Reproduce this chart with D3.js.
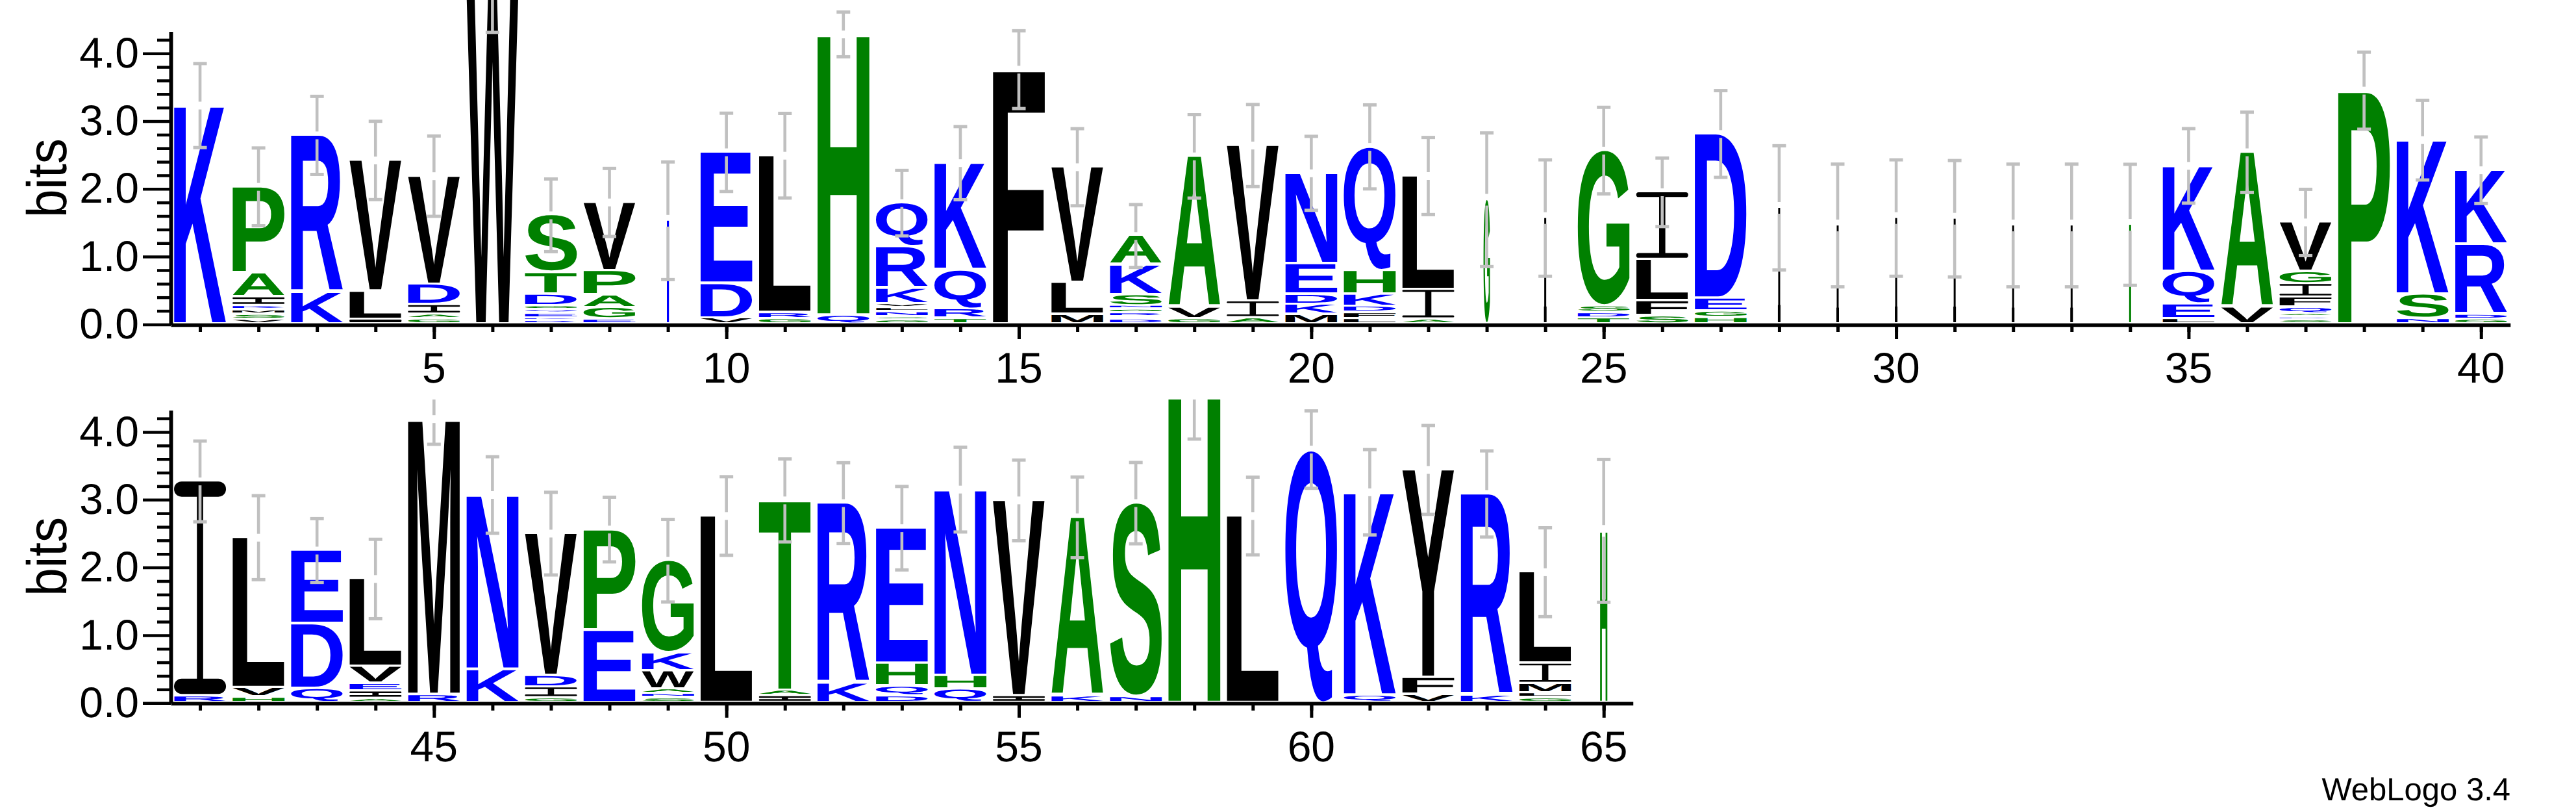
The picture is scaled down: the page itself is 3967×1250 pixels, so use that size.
<!DOCTYPE html>
<html><head><meta charset="utf-8">
<script src="https://cdn.jsdelivr.net/npm/d3@7"></script>
<style>html,body{margin:0;padding:0;background:#fff;} svg{display:block;} text{text-rendering:geometricPrecision;}</style>
</head><body>
<script>
// ---------------- DATA ----------------
const positions = d3.range(1, 66);
// letters of each stack, listed bottom -> top
const stackLetters = [
 "K","VSMKIAP","KR","ILV","GAIDV","W","RKEQGDTS","EGAPV","K","VDE",
 "GRL","QH","GSNLVKRQ","TRQK","F","MLV","DIRGNSKA","GVA","AIV","MKDEN",
 "LFDKHQ","AIL","G","L","TDSG","SFLI","HGED","L","L","L",
 "L","L","L","G","LEQK","VA","SDAQFIGV","P","NSK","GDRK",
 "RI","HVL","QDE","AIEVL","RM","KN","GIDV","EP","SNAWKG","L",
 "IAT","KR","DQHE","QHN","IV","KA","NS","H","L","Q",
 "QK","VFY","KR","GLMIL","H"
];
// heights (bits) of each letter, bottom -> top
const stackHeights = [
 [3.23],[0.068,0.076,0.064,0.061,0.131,0.353,1.277],[0.47,2.32],[0.07,0.415,1.935],[0.076,0.068,0.14,0.304,1.60],
 [4.9],[0.05,0.04,0.07,0.05,0.06,0.17,0.32,0.85],[0.07,0.17,0.19,0.36,1.01],[1.53],[0.09,0.51,1.94],
 [0.08,0.09,2.32],[0.13,4.15],[0.06,0.046,0.074,0.06,0.06,0.23,0.61,0.65],[0.08,0.14,0.58,1.58],[3.76],
 [0.14,0.47,1.71],[0.07,0.03,0.06,0.055,0.055,0.165,0.44,0.43],[0.08,0.17,2.23],[0.09,0.25,2.30],[0.14,0.15,0.15,0.45,1.34],
 [0.08,0.09,0.09,0.18,0.35,1.83],[0.07,0.44,1.68],[1.84],[1.57],[0.09,0.08,0.095,2.30],
 [0.12,0.22,0.61,1.00],[0.095,0.095,0.19,2.43],[1.72],[1.46],[1.57],
 [1.56],[1.46],[1.46],[1.47],[0.08,0.22,0.48,1.56],
 [0.25,2.29],[0.06,0.04,0.05,0.095,0.15,0.20,0.18,0.73],[3.45],[0.08,0.36,2.28],[0.07,0.075,1.03,1.10],
 [0.10,3.17],[0.08,0.14,2.22],[0.21,0.955,1.085],[0.06,0.11,0.11,0.25,1.30],[0.12,4.07],
 [0.49,2.58],[0.07,0.16,0.17,2.10],[1.07,1.49],[0.07,0.06,0.07,0.27,0.266,1.364],[2.76],
 [0.10,0.08,2.81],[0.29,2.66],[0.10,0.143,0.337,2.0],[0.20,0.20,2.75],[0.10,2.89],
 [0.10,2.64],[0.09,2.86],[4.6],[2.76],[3.74],
 [0.11,3.0],[0.12,0.25,3.07],[0.11,2.975],[0.07,0.07,0.14,0.30,1.35],[2.54]
];
// error bar half-heights (bits)
const errorHalf = [
 0.62,0.574,0.576,0.578,0.593,0.59,0.536,0.502,0.868,0.578,
 0.625,0.33,0.483,0.54,0.574,0.569,0.464,0.616,0.606,0.546,
 0.62,0.569,0.986,0.859,0.639,0.506,0.64,0.917,0.906,0.859,
 0.859,0.906,0.906,0.893,0.55,0.593,0.489,0.569,0.588,0.491,
 0.596,0.62,0.471,0.586,0.372,0.565,0.61,0.477,0.61,0.58,
 0.612,0.596,0.616,0.626,0.596,0.596,0.60,0.705,0.573,0.571,
 0.63,0.656,0.636,0.656,1.054
];
// fraction of full stack width (non-gap fraction)
const stackWidthFrac = positions.map(p =>
  ({9:0.04, 23:0.125, 24:0.03, 28:0.03, 29:0.03, 30:0.03, 31:0.03, 32:0.03, 33:0.03, 34:0.03, 65:0.14})[p] || 1);
const rowRanges = [[1, 40], [41, 65]];
const yMajorTicks = [0, 1, 2, 3, 4];
const yMinorTicks = [0.2,0.4,0.6,0.8,1.2,1.4,1.6,1.8,2.2,2.4,2.6,2.8,3.2,3.4,3.6,3.8,4.2];
const xLabelEvery = 5;
const yAxisTitle = "bits";
const footerText = "WebLogo 3.4";
const colorClasses = [
  {letters: "RKDENQ", color: "#0000ff"},
  {letters: "SGHTAP", color: "#008000"},
  {letters: "YVMCLFIW", color: "#000000"}
];

// ---------------- LAYOUT ----------------
const W = 3967, H = 1250;
const LEFT = 263, STEP = 90.07, BIT = 104.3, YMAX = Math.log2(20);
const ROW_BASE = [499.4, 1082.2];
const ROW_CLIP_TOP = [-1000, 615];
const FULL_W = 80, LETTER_GAP = 3.5, MIN_W = 3;
const FONT = '"Liberation Sans", Arial, Helvetica, sans-serif';
const ERR_COLOR = "#c0c0c0";

const colorOf = ch => (colorClasses.find(c => c.letters.includes(ch)) || {color:"#000"}).color;

const svg = d3.select("body").append("svg").attr("width", W).attr("height", H)
  .style("background", "#fff");
svg.append("rect").attr("width", W).attr("height", H).attr("fill", "#fff");
const defs = svg.append("defs");

// ink metrics of glyphs
const FS = 200;
const ctx = document.createElement("canvas").getContext("2d");
ctx.font = `bold ${FS}px ${FONT}`;
const inkCache = {};
function ink(ch) {
  if (!inkCache[ch]) {
    const m = ctx.measureText(ch);
    inkCache[ch] = {l: m.actualBoundingBoxLeft, r: m.actualBoundingBoxRight,
                    a: m.actualBoundingBoxAscent, d: m.actualBoundingBoxDescent};
  }
  return inkCache[ch];
}

function drawLetter(g, ch, bx, by, bw, bh) {
  const col = colorOf(ch);
  if (ch === "I") {
    const t = Math.max(2.5, Math.min(bh * 0.072, bh / 3.2));
    const sw = Math.max(1, bw * 0.12);
    g.append("rect").attr("x", bx).attr("y", by).attr("width", bw).attr("height", t)
      .attr("rx", Math.min(t / 2, bw / 2)).attr("fill", col);
    g.append("rect").attr("x", bx).attr("y", by + bh - t).attr("width", bw).attr("height", t)
      .attr("rx", Math.min(t / 2, bw / 2)).attr("fill", col);
    g.append("rect").attr("x", bx + bw / 2 - sw / 2).attr("y", by + t * 0.5).attr("width", sw)
      .attr("height", Math.max(0, bh - t)).attr("fill", col);
    return;
  }
  if (bw < 6) {
    // extremely narrow stack: a compressed glyph reads as a thin stroke
    g.append("rect").attr("x", bx).attr("y", by).attr("width", bw).attr("height", bh)
      .attr("fill", col);
    if (ch === "L") g.append("rect").attr("x", bx - 0.5).attr("y", by + bh * 0.85)
      .attr("width", bw + 1).attr("height", bh * 0.15).attr("fill", col);
    return;
  }
  const m = ink(ch);
  const sx = bw / (m.l + m.r), sy = bh / (m.a + m.d);
  g.append("text").text(ch)
    .attr("x", 0).attr("y", 0)
    .attr("font-family", FONT).attr("font-weight", "bold").attr("font-size", FS)
    .attr("fill", col)
    .attr("transform", `translate(${bx},${by}) scale(${sx},${sy}) translate(${m.l},${m.a})`);
}

rowRanges.forEach(([start, end], ri) => {
  const base = ROW_BASE[ri];
  const x = d3.scaleLinear().domain([start - 0.5, end + 0.5])
    .range([LEFT, LEFT + (end - start + 1) * STEP]);
  const y = d3.scaleLinear().domain([0, YMAX]).range([base, base - YMAX * BIT]);

  const clipId = "clip" + ri;
  defs.append("clipPath").attr("id", clipId).append("rect")
    .attr("x", 0).attr("y", ROW_CLIP_TOP[ri]).attr("width", W).attr("height", H * 2);
  const content = svg.append("g").attr("clip-path", `url(#${clipId})`);

  const rowPos = positions.filter(p => p >= start && p <= end);
  rowPos.forEach(p => {
    const i = p - 1;
    const letters = stackLetters[i], hs = stackHeights[i];
    const bw = Math.max(MIN_W, FULL_W * stackWidthFrac[i]);
    const bx = x(p) - bw / 2;
    let cum = 0;
    for (let k = 0; k < letters.length; k++) {
      const h = hs[k];
      const yBot = y(cum), yTop = y(cum + h);
      cum += h;
      const bh = (yBot - LETTER_GAP) - yTop;
      if (bh > 0.4) drawLetter(content, letters[k], bx, yTop, bw, bh);
    }
    // error bar
    const e = errorHalf[i];
    const yc = y(cum), yt = y(cum + e), yb = y(cum - e);
    const gh = stackWidthFrac[i] < 0.5 ? 9 : 6;
    const cx = x(p);
    const eg = content.append("g").attr("stroke", ERR_COLOR).attr("stroke-width", 4.6);
    eg.append("line").attr("x1", cx).attr("x2", cx).attr("y1", yt).attr("y2", yc - gh);
    eg.append("line").attr("x1", cx).attr("x2", cx).attr("y1", yc + gh).attr("y2", yb);
    [yt, yb].forEach(yy => content.append("rect").attr("x", cx - 10.5).attr("y", yy - 2.5)
      .attr("width", 21).attr("height", 5).attr("fill", ERR_COLOR));
  });

  // axes
  const axG = svg.append("g");
  const yMinor = axG.append("g").attr("transform", `translate(${LEFT},0)`)
    .call(d3.axisLeft(y).tickValues(yMinorTicks).tickSize(21).tickSizeOuter(0).tickFormat(""));
  const yMajor = axG.append("g").attr("transform", `translate(${LEFT},0)`)
    .call(d3.axisLeft(y).tickValues(yMajorTicks).tickSize(43).tickSizeOuter(0).tickPadding(6)
      .tickFormat(d3.format(".1f")));
  [yMinor, yMajor].forEach(a => {
    a.select(".domain").attr("stroke-width", 5.5).attr("stroke", "#000");
    a.selectAll(".tick line").attr("stroke-width", 4.5).attr("stroke", "#000");
  });
  yMajor.selectAll(".tick text").attr("font-family", FONT).attr("font-size", 66).attr("fill", "#000");

  const xAx = axG.append("g").attr("transform", `translate(0,${base + 0.6})`)
    .call(d3.axisBottom(x).tickValues(rowPos).tickSize(11).tickSizeOuter(0).tickFormat(""));
  const xMaj = axG.append("g").attr("transform", `translate(0,${base + 0.6})`)
    .call(d3.axisBottom(x).tickValues(rowPos.filter(p => p % xLabelEvery === 0)).tickSize(22)
      .tickSizeOuter(0).tickFormat(""));
  [xAx, xMaj].forEach(a => {
    a.select(".domain").attr("stroke-width", 5.5).attr("stroke", "#000");
    a.selectAll(".tick line").attr("stroke-width", 5).attr("stroke", "#000");
  });
  xMaj.select(".domain").remove();
  axG.selectAll(".xlab").data(rowPos.filter(p => p % xLabelEvery === 0)).enter().append("text")
    .attr("x", d => x(d)).attr("y", base + 90)
    .attr("text-anchor", "middle").attr("font-family", FONT).attr("font-size", 66)
    .text(d => d);

  axG.append("text").text(yAxisTitle)
    .attr("transform", `translate(102,${base - YMAX * BIT / 2}) rotate(-90)`)
    .attr("text-anchor", "middle").attr("font-family", FONT).attr("font-size", 86)
    .attr("textLength", 122).attr("lengthAdjust", "spacingAndGlyphs");
});

svg.append("text").text(footerText).attr("x", 3866).attr("y", 1232)
  .attr("text-anchor", "end").attr("font-family", FONT).attr("font-size", 49);
</script>
</body></html>
